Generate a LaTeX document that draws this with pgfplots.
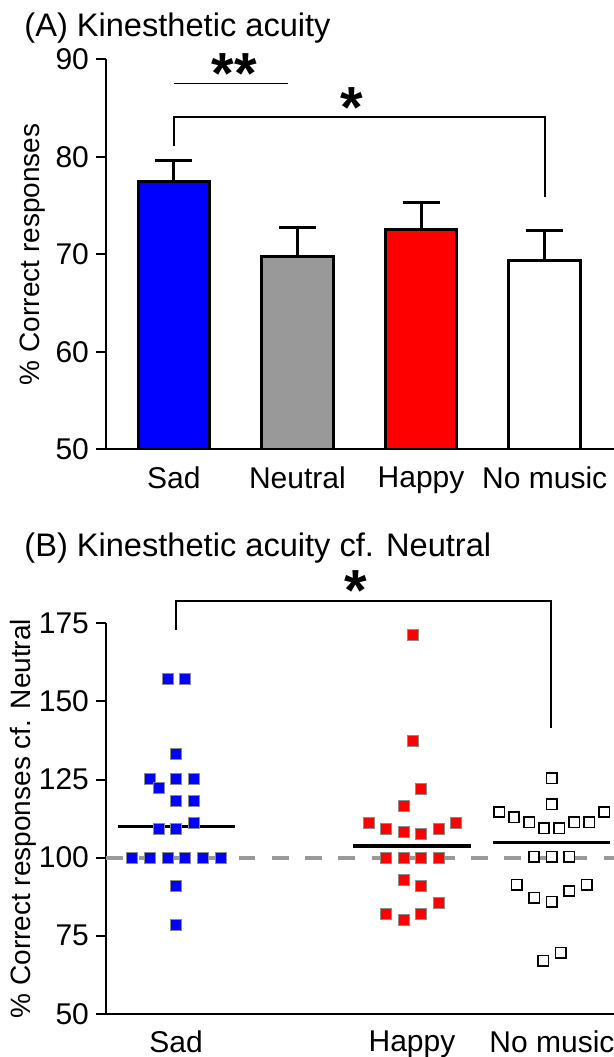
\documentclass[border=0pt]{standalone}
\usepackage{fontspec}
\setmainfont{Liberation Sans}
\usepackage{pgfplots}
\pgfplotsset{compat=1.18}
\definecolor{midgray}{HTML}{999999}
\pgfplotsset{
  panel/.style={
    scale only axis, anchor=south west, width=254pt,
    axis lines*=left,
    axis line style={line width=1pt},
    tick align=outside, major tick length=5pt,
    ytick style={line width=1pt, black},
    x tick style={draw=none},
    ticklabel style={font=\fontsize{15}{17}\selectfont},
    label style={font=\fontsize{14}{16}\selectfont},
    /pgf/number format/assume math mode=true,
  },
  abar/.style={ybar, bar width=35.75pt, bar shift=0pt,
    draw=black, line width=1.5pt, fill=#1,
    error bars/y dir=plus, error bars/y explicit,
    error bars/error bar style={line width=1.5pt, black},
    error bars/error mark options={rotate=90, mark size=9.25pt, line width=1.5pt, black}},
}
\newcommand{\starfont}{\fontsize{29}{29}\selectfont\bfseries}
\begin{document}
\begin{tikzpicture}
\useasboundingbox (0,0) rectangle (307pt,528.5pt);

% (A) bars
\begin{axis}[panel,
  at={(53pt,303.85pt)}, height=195pt,
  xmin=-0.548, xmax=3.56, ymin=50, ymax=90,
  ytick={50,60,...,90},
  xtick={0,1,2,3}, xticklabels={Sad,Neutral,Happy,No music},
  ylabel={\% Correct responses},
  ylabel style={at={(axis description cs:-0.17,0.5)}, anchor=north, inner sep=0pt},
  clip mode=individual,
]
\addplot[abar=blue] coordinates {(0,77.45) +- (0,2.15)};
\addplot[abar=midgray] coordinates {(1,69.75) +- (0,3.05)};
\addplot[abar=red] coordinates {(2,72.5) +- (0,2.8)};
\addplot[abar=white] coordinates {(3,69.4) +- (0,3.0)};
\draw[line width=0.8pt] (axis cs:0,87.5) -- (axis cs:0.925,87.5);
\node[font=\starfont, inner sep=0pt] at (axis cs:0.49,88.5) {**};
\draw[line width=0.8pt] (axis cs:0,81.1) |- (axis cs:3,84.1) -- (axis cs:3,75.9);
\node[font=\starfont, inner sep=0pt] at (axis cs:1.44,85.1) {*};
\end{axis}

% (B) scatter
\begin{axis}[panel,
  at={(53pt,21.55pt)}, height=195.3pt,
  xmin=106, xmax=614, ymin=50, ymax=175,
  ytick={50,75,...,175},
  xtick={176,412,552}, xticklabels={Sad,Happy,No music},
  ylabel={\% Correct responses cf. Neutral},
  ylabel style={at={(axis description cs:-0.19,0.5)}, anchor=north, inner sep=0pt},
  clip=false,
]
\addplot[midgray, line width=2pt, dash pattern=on 8.3pt off 8.3pt] coordinates {(106,100) (614,100)};
\addplot[black, line width=1.7pt] coordinates {(118.3,110) (235,110)};
\addplot[black, line width=1.7pt] coordinates {(353.3,103.7) (470.7,103.7)};
\addplot[black, line width=1.7pt] coordinates {(493.3,104.9) (610,104.9)};
% Sad
\addplot[only marks, mark=square*, mark size=2.75pt,
  mark options={fill=blue, draw=black!45, line width=0.3pt}] coordinates {
  (167.7,157.2) (185,157.2)
  (176,133.3)
  (150,125.2) (176,125.1) (194,125.1)
  (158.7,122.2)
  (176,118.2) (194,118.2)
  (158.7,109.1) (176,109.1) (194,111.2)
  (132.3,100) (150,100) (167.7,100) (185.3,100) (203,100) (220.7,100)
  (176,90.9)
  (176,78.5)
};
% Happy
\addplot[only marks, mark=square*, mark size=2.75pt,
  mark options={fill=red, draw=black!45, line width=0.3pt}] coordinates {
  (412.3,171.4)
  (412.3,137.4)
  (421,122.1)
  (403.3,116.6)
  (368.3,111.0) (386,109.1) (403.3,108.2) (421,107.6) (438.3,109.1) (456,111.0)
  (386,100) (403.3,100) (421,100) (438.3,100)
  (403.3,92.9) (421,90.9) (438.3,85.6)
  (386,81.9) (403.3,80.1) (421,81.9)
};
% No music
\addplot[only marks, mark=square*, mark size=2.55pt,
  mark options={fill=white, draw=black, line width=0.75pt}] coordinates {
  (551.7,125.4) (551.7,117.1)
  (499.3,114.6) (514,112.9) (529.3,111.3) (544,109.4) (559.3,109.4) (574.3,111.3) (589.3,111.3) (604.3,114.6)
  (534,100.3) (551.7,100.3) (569.3,100.3)
  (516.7,91.3) (534.3,87.2) (551.7,85.9) (569.3,89.3) (586.7,91.3)
  (543.3,67.0) (560.7,69.6)
};
\draw[line width=0.8pt] (axis cs:176,172.9) |- (axis cs:551,182.1) -- (axis cs:551,141.5);
\node[font=\starfont, inner sep=0pt] at (axis cs:356,185.5) {*};
\end{axis}

\node[anchor=base west, inner sep=0pt, font=\fontsize{16.3}{19}\selectfont] at (12pt,510pt) {(A) Kinesthetic acuity};
\node[anchor=base west, inner sep=0pt, font=\fontsize{16.3}{19}\selectfont] at (12pt,250pt) {(B) Kinesthetic acuity cf. Neutral};
\end{tikzpicture}
\end{document}
